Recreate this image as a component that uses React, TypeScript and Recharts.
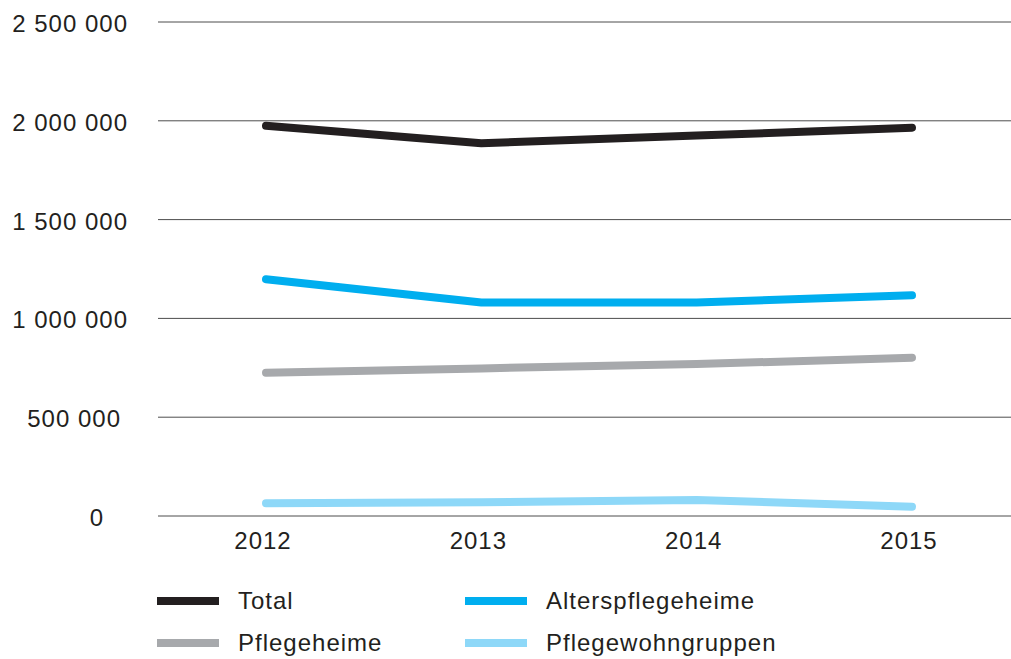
import { LineChart, Line, XAxis, YAxis, CartesianGrid } from "recharts";

const years = ["2012", "2013", "2014", "2015"];
const total = [1975000, 1886000, 1925000, 1965000];
const alterspflegeheime = [1198000, 1080000, 1081000, 1117000];
const pflegeheime = [725000, 747000, 769000, 801000];
const pflegewohngruppen = [64000, 69000, 81000, 47000];
const yTicks = [0, 500000, 1000000, 1500000, 2000000, 2500000];

const SERIES = [
  { key: "total", name: "Total", color: "#231f20" },
  { key: "alters", name: "Alterspflegeheime", color: "#00aeef" },
  { key: "pflege", name: "Pflegeheime", color: "#a7a9ac" },
  { key: "wohn", name: "Pflegewohngruppen", color: "#8ed8f8" },
];

const data = years.map((year, i) => ({
  year,
  total: total[i],
  alters: alterspflegeheime[i],
  pflege: pflegeheime[i],
  wohn: pflegewohngruppen[i],
}));

const FONT = "'Liberation Sans', Arial, sans-serif";
const TEXT = "#231f20";

const fmt = (v: number) => v.toLocaleString("en-US").replace(/,/g, " ");

// the source nudges the shorter labels a bit left of the right edge
const Y_SHIFT: Record<number, number> = { 500000: -7, 0: -24 };

function YTick({ y, payload }: any) {
  const v = payload.value as number;
  return (
    <text x={128 + (Y_SHIFT[v] ?? 0)} y={y + 10} textAnchor="end" fontFamily={FONT} fontSize={24} letterSpacing={1} fill={TEXT}>
      {fmt(v)}
    </text>
  );
}

function XTick({ x, y, payload }: any) {
  return (
    <text x={x - 3} y={y + 25} textAnchor="middle" fontFamily={FONT} fontSize={24} letterSpacing={1} fill={TEXT}>
      {payload.value}
    </text>
  );
}

function LegendBox() {
  return (
    <div style={{ position: "absolute", left: 157, top: 587, display: "grid", gridTemplateColumns: "308px 320px", rowGap: 14, fontFamily: FONT, fontSize: 24, letterSpacing: 1, color: TEXT }}>
      {SERIES.map((s) => (
        <div key={s.key} style={{ display: "flex", alignItems: "center", height: 28 }}>
          <span style={{ width: 62, height: 8, background: s.color, marginRight: 19, display: "inline-block" }} />
          <span>{s.name}</span>
        </div>
      ))}
    </div>
  );
}

export default function App() {
  return (
    <div style={{ position: "absolute", left: 0, top: 0, width: 1011, height: 659, overflow: "hidden", background: "white" }}>
      <LineChart width={1020} height={659} data={data} margin={{ top: 22, right: 0, bottom: 99, left: 0 }}>
        <CartesianGrid vertical={false} stroke="#4d4d4d" strokeWidth={1} />
        <XAxis dataKey="year" height={44} axisLine={false} tickLine={false} tick={<XTick />} padding={{ left: 108, right: 108 }} />
        <YAxis width={158} domain={[0, 2500000]} ticks={yTicks} axisLine={false} tickLine={false} tick={<YTick />} interval={0} />
        {SERIES.map((s) => (
          <Line
            key={s.key}
            type="linear"
            dataKey={s.key}
            name={s.name}
            stroke={s.color}
            strokeWidth={8}
            strokeLinecap="round"
            strokeLinejoin="round"
            dot={false}
            activeDot={false}
            isAnimationActive={false}
          />
        ))}
      </LineChart>
      <LegendBox />
    </div>
  );
}
